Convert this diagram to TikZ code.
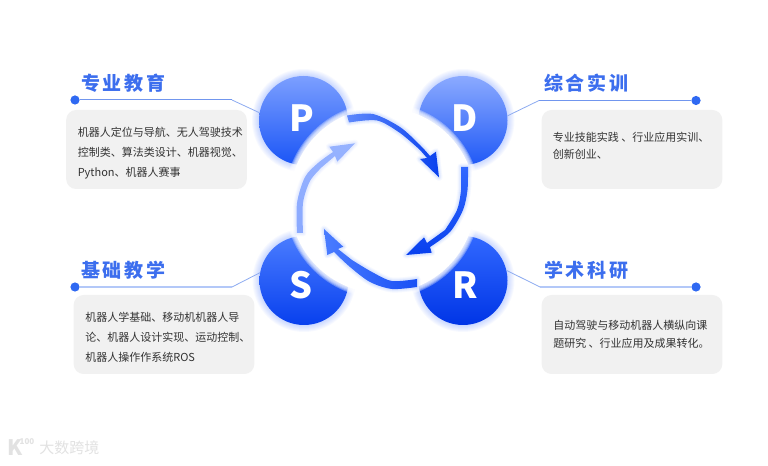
\documentclass[tikz,border=0pt]{standalone}
\usepackage{fontspec}
\setmainfont{Noto Sans CJK SC}
\newfontfamily\titlefont[LetterSpace=14]{Noto Sans CJK SC}
\usepackage{tikz}
\usetikzlibrary{
    positioning,
    calc,
}
\usepackage{xcolor}
\definecolor{titleblue}{HTML}{3C6EEE}
\definecolor{dotblue}{HTML}{2F69F2}
\definecolor{glowblue}{HTML}{2F69FF}
\definecolor{linetop}{HTML}{7196EE}
\definecolor{linelow}{HTML}{B3C8F8}
\definecolor{boxgray}{HTML}{F1F1F1}
\definecolor{bodygray}{HTML}{333333}
\definecolor{wmgray}{HTML}{E2E2E2}
\definecolor{lobepa}{HTML}{7C9FFF}
\definecolor{lobepb}{HTML}{1A55F6}
\definecolor{lobeda}{HTML}{8BAAFF}
\definecolor{lobedb}{HTML}{2059F6}
\definecolor{lobesa}{HTML}{4A7CFF}
\definecolor{lobesb}{HTML}{0840EE}
\definecolor{lobera}{HTML}{3168FF}
\definecolor{loberb}{HTML}{0035E6}
% the four arrows, in pixel coordinates
\newcommand{\arrowpd}{plot[smooth] coordinates {(347,115.5) (373,114) (400,127) (420,145) (430,156)}
  -- (436,151.7) -- (439,177.3) -- (420,159) -- (427,158)
  -- plot[smooth] coordinates {(420,150) (400,133) (377,120.5) (349,122.5)} -- cycle}
\newcommand{\arrowdr}{plot[smooth] coordinates {(468,167) (467.5,190) (463,210) (450,232) (430,247)}
  -- (431.7,252.7) -- (406,255) -- (424,237.3) -- (427,243)
  -- plot[smooth] coordinates {(445,230) (457,210) (461,190) (461,167)} -- cycle}
\newcommand{\arrowrs}{plot[smooth] coordinates {(417,287) (392,289) (370,282) (350,267) (334,252)}
  -- (327.3,255) -- (324,229) -- (343.3,246.7) -- (338,249)
  -- plot[smooth] coordinates {(352,260) (372,272) (392,281) (417,279)} -- cycle}
\newcommand{\arrowsp}{plot[smooth] coordinates {(297,233) (297,203) (305,177) (318,163) (333,152)}
  -- (329.3,146.7) -- (355,143.3) -- (337.3,161.7) -- (335,156)
  -- plot[smooth] coordinates {(322,167) (310,181) (303,203) (303,233)} -- cycle}

\begin{document}
\begin{tikzpicture}[
    x=0.75pt, y=-0.75pt,
    lobe/.style     = {circle, minimum size=66.75pt, inner sep=0pt},
    lobep/.style    = {lobe, top color=lobepa, bottom color=lobepb},
    lobed/.style    = {lobe, top color=lobeda, bottom color=lobedb},
    lobes/.style    = {lobe, top color=lobesa, bottom color=lobesb},
    lober/.style    = {lobe, top color=lobera, bottom color=loberb},
    letter/.style   = {text=white, inner sep=0pt, font=\fontsize{27}{27}\selectfont\bfseries},
    endpoint/.style = {circle, fill=dotblue, minimum size=6.9pt, inner sep=0pt},
    titletxt/.style = {anchor=west, inner sep=0pt, text=titleblue,
                       font=\titlefont\fontsize{14.25}{16}\selectfont\bfseries},
    bodytxt/.style  = {anchor=west, inner sep=0pt, align=left, text=bodygray},
    infobox/.style  = {fill=boxgray, rounded corners=7.5pt, minimum width=135.5pt,
                       minimum height=59.25pt, inner sep=0pt},
    leadtop/.style  = {draw=linetop, line width=0.75pt},
    leadlow/.style  = {draw=linelow, line width=1.2pt},
    leaddiag/.style = {draw=linetop!80, line width=0.6pt},
]

\fill[white] (0,0) rectangle (768,466);
\useasboundingbox (0,0) rectangle (768,466);

%% -- Glow round the circles ---------------------------------------------------
\foreach \cx/\cy in {303.5/120.5, 463/120.5, 304/280.5, 463/280.5} {
  \foreach \rad in {45.5,46.5,...,51.5} {
    \fill[glowblue, opacity=0.035] (\cx,\cy) circle[radius=\rad*0.75pt];
  }
}

%% -- Circles ------------------------------------------------------------------
\node[lobep] (pcirc) at (303.5,120.5) {};
\node[lobed] (dcirc) at (463,120.5) {};
\node[lobes] (scirc) at (304,280.5) {};
\node[lober] (rcirc) at (463,280.5) {};

%% -- White disc in the middle -------------------------------------------------
\foreach \rad in {98,97,96,95,94} {
  \fill[white, opacity=0.3] (382.5,200.5) circle[radius=\rad*0.75pt];
}
\fill[white] (382.5,200.5) circle[radius=93*0.75pt];

%% -- Letters ------------------------------------------------------------------
\node[letter] (pletter) at (301.5,118.5) {P};
\node[letter] (dletter) at (464.5,118.5) {D};
\node[letter] (sletter) at (301,285) {S};
\node[letter] (rletter) at (465.5,285) {R};

%% -- Arrows -------------------------------------------------------------------
\foreach \wid/\opa in {7/0.04, 5/0.05, 3/0.07} {
  \draw[glowblue, line width=\wid*0.75pt, opacity=\opa, line join=round] \arrowpd;
  \draw[glowblue, line width=\wid*0.75pt, opacity=\opa, line join=round] \arrowdr;
  \draw[glowblue, line width=\wid*0.75pt, opacity=\opa, line join=round] \arrowrs;
  \draw[glowblue!70, line width=\wid*0.75pt, opacity=\opa, line join=round] \arrowsp;
}
\path[left color=lobepa!70!lobepb, right color=lobesb] \arrowpd;
\path[top color=lobera, bottom color=lobesb] \arrowdr;
\path[right color=lobesb!60!lobera, left color=lobesa] \arrowrs;
\path[bottom color=lobepa!90, top color=lobeda!90] \arrowsp;

%% -- Leader lines -------------------------------------------------------------
\node[endpoint] (pdot) at (75,100) {};
\node[endpoint] (ddot) at (696,100.5) {};
\node[endpoint] (sdot) at (75,287) {};
\node[endpoint] (rdot) at (696,287) {};
\coordinate (pbend) at (232,100);
\coordinate (dbend) at (539,100.5);
\coordinate (sbend) at (232,287);
\coordinate (rbend) at (540,287);
\draw[leadtop] (pdot) -- (pbend);
\draw[leaddiag] (pbend) -- (pcirc.170);
\draw[leadtop] (ddot) -- (dbend);
\draw[leaddiag] (dbend) -- (dcirc.6);
\draw[leadlow] (sdot) -- (sbend);
\draw[leaddiag] (sbend) -- (scirc.170);
\draw[leadlow] (rdot) -- (rbend);
\draw[leaddiag] (rbend) -- (rcirc.13);

%% -- Titles -------------------------------------------------------------------
\node[titletxt] (ptitle) at (81,83) {专业教育};
\node[titletxt] (dtitle) at (544,83) {综合实训};
\node[titletxt] (stitle) at (81,270.5) {基础教学};
\node[titletxt] (rtitle) at (544,270.5) {学术科研};

%% -- Boxes and their text -----------------------------------------------------
\node[infobox] (pbox) at (156.5,149.5) {};
\node[infobox] (dbox) at (632,149.5) {};
\node[infobox] (sbox) at (164,334.5) {};
\node[infobox] (rbox) at (632,334.5) {};

\node[bodytxt, font=\fontsize{8.25}{15}\selectfont] (ptext) at (77.5,152.7)
  {机器人定位与导航、无人驾驶技术\\控制类、算法类设计、机器视觉、\\Python、机器人赛事};
\node[bodytxt, font=\fontsize{8.25}{13}\selectfont] (dtext) at (552.7,145.7)
  {专业技能实践 、行业应用实训、\\创新创业、};
\node[bodytxt, font=\fontsize{8.25}{15}\selectfont] (stext) at (85,337.7)
  {机器人学基础、移动机机器人导\\论、机器人设计实现、运动控制、\\机器人操作作系统ROS};
\node[bodytxt, font=\fontsize{8.25}{13}\selectfont] (rtext) at (553,334.5)
  {自动驾驶与移动机器人横纵向课\\题研究 、行业应用及成果转化。};

%% -- Watermark ----------------------------------------------------------------
\node[text=wmgray, inner sep=0pt, font=\fontsize{16}{16}\selectfont\bfseries] (wmk) at (15,448) {K};
\node[text=wmgray, inner sep=0pt, font=\fontsize{6}{6}\selectfont\bfseries] (wmnum) at (27,442) {100};
\node[text=wmgray, inner sep=0pt, anchor=west, font=\fontsize{11.25}{12}\selectfont] (wmtxt) at (39,448) {大数跨境};

\end{tikzpicture}
\end{document}
